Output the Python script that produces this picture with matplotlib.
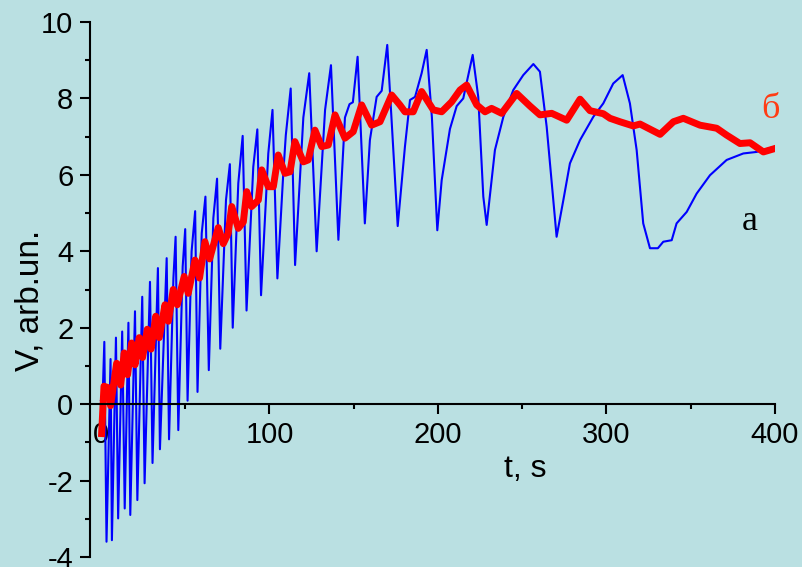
import matplotlib.pyplot as plt
from matplotlib.ticker import MultipleLocator

# signal a (thin blue trace)
blue_t = [0.0, 1.0, 2.0, 3.3, 5.7, 6.5, 8.9, 10.2, 12.6, 14.1, 16.3, 17.4, 20.2, 21.6,
          24.5, 25.9, 29.1, 30.6, 33.8, 35.0, 39.0, 40.4, 43.0, 44.3, 45.9, 48.5, 50.0,
          51.4, 53.8, 55.9, 57.3, 59.8, 62.0, 64.0, 66.7, 68.9, 70.8, 74.2, 76.5, 78.2,
          81.5, 84.1, 86.4, 90.4, 92.8, 95.0, 99.3, 101.8, 104.7, 108.2, 109.7, 112.6,
          115.2, 120.1, 123.6, 128.0, 133.0, 136.5, 140.9, 144.8, 147.5, 149.5, 152.3,
          156.6, 159.6, 163.6, 166.6, 169.9, 176.1, 180.4, 183.4, 186.4, 190.3, 193.3,
          196.4, 199.6, 202.2, 207.1, 211.1, 215.0, 220.6, 223.9, 226.9, 228.9, 233.8,
          238.8, 244.7, 250.6, 256.6, 260.5, 264.5, 270.4, 274.4, 278.3, 284.3, 292.2,
          298.1, 304.0, 309.6, 313.9, 317.9, 321.8, 325.8, 330.5, 333.7, 338.7, 341.6,
          347.6, 353.5, 361.4, 371.3, 381.2, 389.1, 400.0]
blue_v = [0.1, 0.2, 1.63, -3.6, 1.18, -3.56, 1.74, -2.99, 1.9, -2.73, 2.13, -2.9, 2.43, -2.51,
          2.81, -2.07, 3.2, -1.54, 3.56, -1.18, 3.82, -0.92, 3.3, 4.38, -0.68, 3.6, 4.58,
          0.09, 4.0, 5.05, 0.32, 4.47, 5.43, 0.89, 4.87, 5.9, 1.45, 5.34, 6.28, 2.0,
          5.78, 7.02, 2.45, 6.21, 7.19, 2.85, 6.56, 7.7, 3.29, 6.04, 7.04, 8.26,
          3.64, 7.5, 8.66, 4.0, 7.7, 8.87, 4.3, 7.5, 7.85, 7.9, 9.09,
          4.73, 6.91, 8.04, 8.2, 9.4, 4.66, 6.74, 7.96, 8.04, 8.66, 9.27,
          7.5, 4.55, 5.86, 7.2, 7.8, 8.0, 9.14, 8.04, 5.43, 4.69, 6.65,
          7.52, 8.22, 8.61, 8.9, 8.7, 7.26, 4.38, 5.34, 6.3, 6.91, 7.52,
          7.87, 8.39, 8.61, 7.87, 6.65, 4.73, 4.08, 4.08, 4.25, 4.29, 4.73,
          5.03, 5.51, 5.99, 6.39, 6.56, 6.6, 6.74]

# signal б (thick red trace)
red_t = [0.4, 1.8, 4.9, 5.7, 9.3, 11.7, 13.8, 15.8, 18.2, 20.2, 22.7, 24.7, 27.5, 29.7,
         32.5, 34.6, 38.0, 40.0, 42.9, 45.3, 49.4, 51.8, 55.8, 58.5, 61.7, 64.5, 69.6,
         72.6, 75.5, 77.6, 81.5, 84.5, 86.5, 89.4, 93.4, 95.4, 99.3, 102.3, 105.2, 109.2,
         112.2, 115.1, 120.1, 123.0, 127.0, 131.0, 134.9, 138.9, 144.8, 149.7, 154.7,
         160.6, 165.6, 172.5, 177.4, 180.4, 185.3, 190.3, 197.2, 202.2, 208.1, 213.1,
         217.0, 223.0, 227.9, 231.8, 237.8, 246.7, 254.6, 260.5, 267.5, 276.4, 284.3,
         290.2, 298.1, 302.1, 308.0, 315.9, 319.9, 331.8, 339.7, 345.6, 355.5, 365.4,
         371.3, 379.2, 385.2, 393.1, 400.0]
red_v = [-0.77, 0.47, 0.42, -0.04, 1.07, 0.5, 1.34, 0.77, 1.6, 1.03, 1.74, 1.22, 1.96, 1.44,
         2.3, 1.74, 2.6, 2.17, 3.0, 2.6, 3.34, 2.9, 3.77, 3.3, 4.25, 3.8, 4.62,
         4.2, 4.47, 5.17, 4.6, 4.77, 5.56, 5.17, 5.34, 6.13, 5.69, 5.69, 6.52, 6.04,
         6.08, 6.87, 6.34, 6.39, 7.17, 6.74, 6.78, 7.57, 6.96, 7.13, 7.83,
         7.3, 7.39, 8.09, 7.83, 7.65, 7.65, 8.18, 7.7, 7.65, 7.91, 8.22,
         8.35, 7.83, 7.65, 7.74, 7.61, 8.13, 7.8, 7.57, 7.61, 7.43, 7.98,
         7.68, 7.6, 7.48, 7.39, 7.28, 7.33, 7.06, 7.39, 7.48, 7.3, 7.22,
         7.04, 6.82, 6.84, 6.6, 6.69]

bg = '#bae0e2'
plt.rcParams['font.family'] = 'Liberation Sans'

fig = plt.figure(figsize=(8.03, 5.67), dpi=100, facecolor=bg)
ax = fig.add_axes([90/803, 10/567, 685/803, 535/567])
ax.set_facecolor(bg)

ax.plot(blue_t, blue_v, color='#0000ff', lw=1.5)
ax.plot(red_t, red_v, color='#ff0000', lw=5, solid_joinstyle='round')

ax.set_xlim(-6.5, 400)
ax.set_ylim(-4, 10)

ax.spines['top'].set_visible(False)
ax.spines['right'].set_visible(False)
ax.spines['bottom'].set_position(('data', 0))
for s in ('left', 'bottom'):
  ax.spines[s].set_linewidth(1.5)

ax.xaxis.set_major_locator(MultipleLocator(100))
ax.xaxis.set_minor_locator(MultipleLocator(50))
ax.yaxis.set_major_locator(MultipleLocator(2))
ax.yaxis.set_minor_locator(MultipleLocator(1))
ax.tick_params(which='major', direction='out', length=7, width=1.5, labelsize=21, pad=5)
ax.tick_params(which='minor', direction='out', length=3.5, width=1.5)
ax.set_xticks([0, 100, 200, 300, 400])
ax.set_xticklabels(['0', '100', '200', '300', '400'])
ax.set_yticks(range(-4, 11, 2))
ax.set_yticklabels(['-4', '-2', '0', '2', '4', '6', '8', '10'])

ax.text(0.635, 0.165, 't, s', transform=ax.transAxes, fontsize=23,
        ha='center', va='center')
fig.text(30/803, 1 - 300/567, 'V, arb.un.', rotation=90, fontsize=24,
         ha='center', va='center')

ax.text(385, 4.77, 'а', fontsize=26, family='Liberation Serif',
        ha='center', va='center', color='black')
ax.text(397.4, 7.7, 'б', fontsize=26, family='Liberation Serif',
        ha='center', va='center', color='#ff3c14', clip_on=False)

plt.savefig('out.png', dpi=100, facecolor=bg)
